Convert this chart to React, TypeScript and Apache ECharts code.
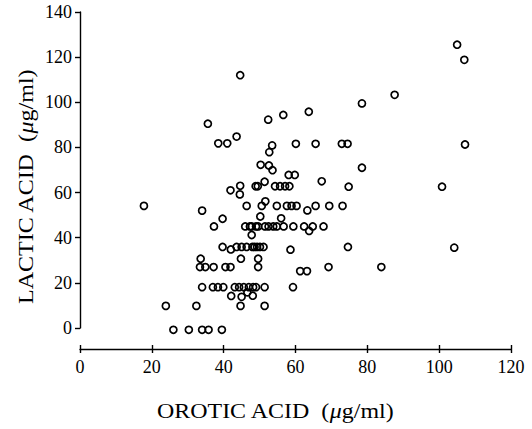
import React, { useEffect, useRef } from "react";
import * as echarts from "echarts";

const xTicks = [0, 20, 40, 60, 80, 100, 120];
const yTicks = [0, 20, 40, 60, 80, 100, 120, 140];

// [orotic acid, lactic acid] (µg/ml)
const outliers: number[][] = [
  [105.0, 125.5], [107.0, 118.8], [44.6, 112.0], [87.6, 103.3], [78.5, 99.5],
  [63.7, 95.8], [56.6, 94.4], [52.4, 92.3], [35.6, 90.5], [43.6, 84.8],
  [38.5, 81.8], [41.0, 81.8], [53.5, 80.9], [60.1, 81.6], [65.6, 81.6],
  [72.9, 81.6], [74.5, 81.6], [107.2, 81.3], [52.7, 77.9], [50.3, 72.3],
  [52.6, 72.0], [53.6, 69.9], [78.5, 71.0], [58.1, 67.8], [59.8, 67.8],
  [67.3, 65.0], [51.4, 64.8], [44.6, 63.0], [44.5, 59.2], [41.9, 61.0],
];
const row63: number[][] = [
  [48.9, 62.8], [49.5, 62.8], [54.3, 62.8], [55.7, 62.8], [57.1, 62.8],
  [58.3, 62.8], [74.8, 62.6], [100.8, 62.6],
];
const row54: number[][] = [
  [17.8, 54.1], [46.4, 54.1], [50.6, 54.1], [51.6, 56.1], [54.8, 54.1],
  [57.6, 54.1], [58.9, 54.1], [60.3, 54.1], [63.3, 52.1], [65.6, 54.1],
  [69.4, 54.1], [73.1, 54.1], [34.0, 52.0], [39.7, 48.4], [50.2, 49.4],
  [56.0, 48.6],
];
const row45: number[][] = [
  [37.3, 45.0], [46.0, 45.0], [47.3, 45.0], [47.8, 45.0], [49.0, 45.0],
  [49.6, 45.0], [51.5, 45.0], [52.5, 45.0], [53.8, 45.0], [54.8, 45.0],
  [56.7, 45.0], [59.4, 45.0], [62.4, 45.0], [64.8, 45.0], [67.8, 45.0],
  [63.8, 43.0], [47.8, 41.2],
];
const row36: number[][] = [
  [39.7, 35.9], [42.0, 34.8], [43.6, 35.9], [45.0, 35.9], [46.4, 35.9],
  [48.0, 35.9], [48.6, 35.9], [49.3, 35.9], [50.1, 35.9], [51.1, 35.9],
  [58.6, 34.7], [74.6, 35.9], [104.2, 35.6], [33.6, 30.7], [44.8, 30.7],
  [49.6, 30.7],
];
const row27: number[][] = [
  [33.4, 27.0], [34.9, 27.0], [37.2, 27.0], [40.5, 27.0], [41.9, 27.0],
  [49.6, 27.0], [69.2, 27.0], [83.9, 27.0], [61.3, 25.2], [63.2, 25.2],
];
const row18: number[][] = [
  [34.0, 18.1], [37.0, 18.1], [38.4, 18.1], [39.9, 18.1], [43.1, 18.1],
  [44.3, 18.1], [45.6, 18.1], [47.0, 18.1], [48.2, 18.1], [49.0, 18.1],
  [51.4, 18.1], [59.3, 18.1], [42.1, 14.2], [45.0, 13.8], [46.6, 15.8],
  [48.1, 14.3],
];
const rowLow: number[][] = [
  [23.9, 9.8], [32.4, 9.8], [44.7, 9.8], [51.4, 9.8],
  [26.0, -0.8], [30.3, -0.8], [34.0, -0.8], [35.8, -0.8], [39.5, -0.8],
];

const points = [
  ...outliers, ...row63, ...row54, ...row45, ...row36, ...row27, ...row18, ...rowLow,
];

const FONT = "'Liberation Serif', 'DejaVu Serif', serif";

export default function App() {
  const ref = useRef<HTMLDivElement>(null);
  useEffect(() => {
    if (!ref.current) return;
    const chart = echarts.init(ref.current, undefined, { renderer: "svg" });
    chart.setOption({
      animation: false,
      backgroundColor: "#fff",
      grid: { left: 80, right: 21, top: 12, bottom: 101 },
      xAxis: [
        {
          type: "value",
          position: "bottom",
          offset: 21,
          min: xTicks[0],
          max: xTicks[xTicks.length - 1],
          interval: 20,
          axisLine: { show: true, onZero: false, lineStyle: { color: "#000", width: 1.4 } },
          axisTick: { show: true, inside: false, length: 4, lineStyle: { color: "#000", width: 1.4 } },
          axisLabel: {
            color: "#000",
            fontFamily: FONT,
            fontSize: 18,
            margin: 9,
            formatter: (v: number) => (xTicks.includes(v) ? String(v) : ""),
          },
          splitLine: { show: false },
        },
        {
          type: "value",
          position: "bottom",
          offset: 21,
          min: xTicks[0],
          max: xTicks[xTicks.length - 1],
          interval: 20,
          axisLine: { show: false, onZero: false },
          axisTick: { show: true, inside: true, length: 4, lineStyle: { color: "#000", width: 1.4 } },
          axisLabel: { show: false },
          splitLine: { show: false },
        },
      ],
      yAxis: {
        type: "value",
        min: yTicks[0],
        max: yTicks[yTicks.length - 1],
        interval: 20,
        axisLine: { show: true, onZero: false, lineStyle: { color: "#000", width: 1.4 } },
        axisTick: { show: true, inside: false, length: 5, lineStyle: { color: "#000", width: 1.4 } },
        axisLabel: {
          color: "#000",
          fontFamily: FONT,
          fontSize: 18,
          margin: 8,
          formatter: (v: number) => (yTicks.includes(v) ? String(v) : ""),
        },
        splitLine: { show: false },
      },
      graphic: [
        {
          type: "text",
          x: 275,
          y: 411,
          scaleX: 1.14,
          style: {
            text: "OROTIC ACID  ({i|μ}g/ml)",
            fill: "#000",
            font: `21px ${FONT}`,
            align: "center",
            verticalAlign: "middle",
            rich: { i: { fontStyle: "italic", fontFamily: FONT, fontSize: 21, fill: "#000" } },
          },
        },
        {
          type: "text",
          x: 25,
          y: 187,
          rotation: Math.PI / 2,
          scaleX: 1.09,
          style: {
            text: "LACTIC ACID  ({i|μ}g/ml)",
            fill: "#000",
            font: `22px ${FONT}`,
            align: "center",
            verticalAlign: "middle",
            rich: { i: { fontStyle: "italic", fontFamily: FONT, fontSize: 22, fill: "#000" } },
          },
        },
      ],
      series: [
        {
          type: "scatter",
          xAxisIndex: 0,
          yAxisIndex: 0,
          clip: false,
          symbol: "circle",
          symbolSize: 7,
          itemStyle: { color: "rgba(0,0,0,0)", borderColor: "#000", borderWidth: 1.7, opacity: 1 },
          emphasis: { disabled: true },
          data: points,
        },
      ],
    });
    return () => chart.dispose();
  }, []);
  return <div ref={ref} style={{ width: 532, height: 429, position: "absolute", left: 0, top: 0 }} />;
}
